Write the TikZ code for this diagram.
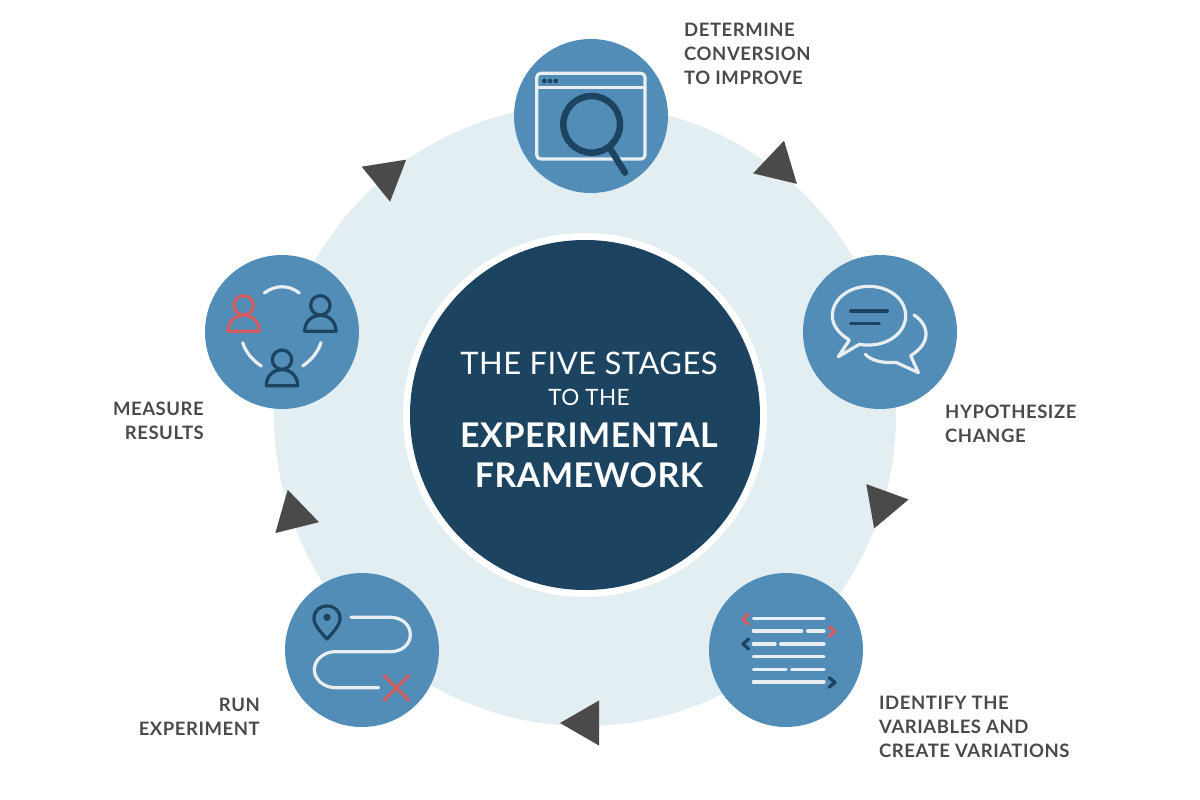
\documentclass[tikz,border=0pt]{standalone}
\usepackage{fontspec}
\setmainfont{Lato}
\usetikzlibrary{shapes.geometric}
\definecolor{ringblue}{HTML}{E3EEF3}
\definecolor{stageblue}{HTML}{528DB8}
\definecolor{navy}{HTML}{1C4460}
\definecolor{warnred}{HTML}{CF5F62}
\definecolor{iconwhite}{HTML}{E8EEF1}
\definecolor{labelgray}{HTML}{4A4A4A}

\begin{document}
\begin{tikzpicture}[
    x=1pt, y=-1pt,
    stage/.style={circle, fill=stageblue, minimum size=154pt, inner sep=0pt},
    marker/.style={regular polygon, regular polygon sides=3, fill=labelgray, minimum size=52pt, inner sep=0pt, shape border rotate=#1},
    steplabel/.style={text=labelgray, font=\fontsize{18.5}{24}\selectfont\bfseries\addfontfeature{LetterSpace=3}, align=left, inner sep=0pt},
    titlethin/.style={text=white, font=\fontsize{#1}{#1}\selectfont\addfontfeature{LetterSpace=1.5}, inner sep=0pt},
    titlebold/.style={text=white, font=\fontsize{34}{34}\selectfont\bfseries\addfontfeature{LetterSpace=1.5}, inner sep=0pt},
    icon/.style={shift={#1}, scale=1/3},
    wline/.style={draw=iconwhite, line width=3.2pt, line cap=round, line join=round},
    dline/.style={draw=navy, line width=3.2pt, line cap=round, line join=round},
    rline/.style={draw=warnred, line width=3.2pt, line cap=round, line join=round}
]
\useasboundingbox (0,0) rectangle (1200,800);

% The ring and the middle
\node[circle, fill=ringblue, minimum size=622pt, inner sep=0pt] (ring) at (585,415) {};
\node[circle, fill=white, minimum size=364pt, inner sep=0pt] (halo) at (585,415) {};
\node[circle, fill=navy, minimum size=350pt, inner sep=0pt] (hub) at (585,415) {};

% Title
\node[titlethin=31] (title1) at (589,363) {THE FIVE STAGES};
\node[titlethin=22.5] (title2) at (589,397) {TO THE};
\node[titlebold] (title3) at (589,435) {EXPERIMENTAL};
\node[titlebold] (title4) at (589,475) {FRAMEWORK};

% Stages
\node[stage] (determine) at (591,116) {};
\node[stage] (hypothesize) at (880,332) {};
\node[stage] (identify) at (786,650) {};
\node[stage] (run) at (362,650) {};
\node[stage] (measure) at (282,332) {};

% Markers
\node[marker=-13.5] (mark1) at (778,166) {};
\node[marker=40] (mark2) at (883,504) {};
\node[marker=90] (mark3) at (586,723) {};
\node[marker=14] (mark4) at (294,515) {};
\node[marker=-51] (mark5) at (386,176) {};

% Labels
\node[steplabel, anchor=north west] (lab1) at (684,23) {DETERMINE\\CONVERSION\\TO IMPROVE};
\node[steplabel, anchor=north west] (lab2) at (945,405) {HYPOTHESIZE\\CHANGE};
\node[steplabel, anchor=north west] (lab3) at (879,696) {IDENTIFY THE\\VARIABLES AND\\CREATE VARIATIONS};
\node[steplabel, anchor=north east, align=right] (lab4) at (260,698) {RUN\\EXPERIMENT};
\node[steplabel, anchor=north east, align=right] (lab5) at (204,402) {MEASURE\\RESULTS};

% Window and magnifier
\begin{scope}[icon={(510,35)}]
\draw[wline, rounded corners=4pt] (80,115) rectangle (405,372);
\draw[wline] (80,158) -- (405,158);
\foreach \dotx in {103,120,137} \fill[navy] (\dotx,138) circle (7);
\draw[navy, line width=6.5pt] (245,268) circle (85);
\draw[navy, line width=6.5pt, line cap=round] (300,340) -- (345,413);
\end{scope}

% Speech bubbles
\begin{scope}[icon={(800,255)}]
\draw[wline] (148,255) .. controls (115,235) and (97,210) .. (97,182) .. controls (97,133) and (146,94) .. (207,94) .. controls (268,94) and (317,133) .. (317,182) .. controls (317,231) and (268,270) .. (207,270) .. controls (197,270) and (187,270) .. (178,268) -- (115,305) -- cycle;
\draw[wline] (342,180) .. controls (365,195) and (378,215) .. (378,238) .. controls (378,262) and (360,285) .. (332,302) -- (355,353) -- (288,322) .. controls (250,325) and (215,318) .. (196,298);
\draw[dline] (152,168) -- (262,168);
\draw[dline] (152,205) -- (238,205);
\end{scope}

% Text lines with brackets
\begin{scope}[icon={(705,570)}]
\draw[wline] (145,145) -- (357,145);
\draw[wline] (145,183) -- (290,183) (308,183) -- (357,183);
\draw[wline] (145,222) -- (210,222) (227,222) -- (357,222);
\draw[wline] (145,260) -- (357,260);
\draw[wline] (145,298) -- (243,298) (260,298) -- (357,298);
\draw[wline] (145,336) -- (357,336);
\draw[rline] (130,132) -- (113,148) -- (130,163);
\draw[rline] (372,170) -- (390,184) -- (372,199);
\draw[dline] (131,207) -- (114,222) -- (131,237);
\draw[dline] (372,323) -- (390,337) -- (372,352);
\end{scope}

% Route
\begin{scope}[icon={(282,570)}]
\draw[wline] (207,142) -- (325,142) .. controls (360,142) and (385,165) .. (385,194) .. controls (385,223) and (360,245) .. (325,245) -- (160,245) .. controls (125,245) and (97,270) .. (97,299) .. controls (97,328) and (125,353) .. (160,353) -- (290,353);
\draw[dline] (135,207) .. controls (115,185) and (96,165) .. (96,145) .. controls (96,122) and (113,108) .. (135,108) .. controls (157,108) and (174,122) .. (174,145) .. controls (174,165) and (155,185) .. (135,207) -- cycle;
\fill[navy] (135,142) circle (11);
\draw[rline, line cap=butt] (305,315) -- (382,392);
\draw[rline, line cap=butt] (382,315) -- (305,392);
\end{scope}

% People in a circle
\begin{scope}[icon={(202,252)}]
\draw[wline] (187,123) .. controls (220,98) and (260,98) .. (292,123);
\draw[wline] (122,272) .. controls (132,302) and (152,325) .. (178,342);
\draw[wline] (357,272) .. controls (347,302) and (327,325) .. (302,342);
\foreach \px/\py/\pcol in {125/160/rline, 355/160/dline, 240/323/dline} {
  \draw[\pcol] (\px,\py) circle (29);
  \draw[\pcol] (\px-47,\py+78) .. controls (\px-47,\py+48) and (\px-25,\py+30) .. (\px,\py+30) .. controls (\px+25,\py+30) and (\px+47,\py+48) .. (\px+47,\py+78) -- cycle;
}
\end{scope}

\end{tikzpicture}
\end{document}
